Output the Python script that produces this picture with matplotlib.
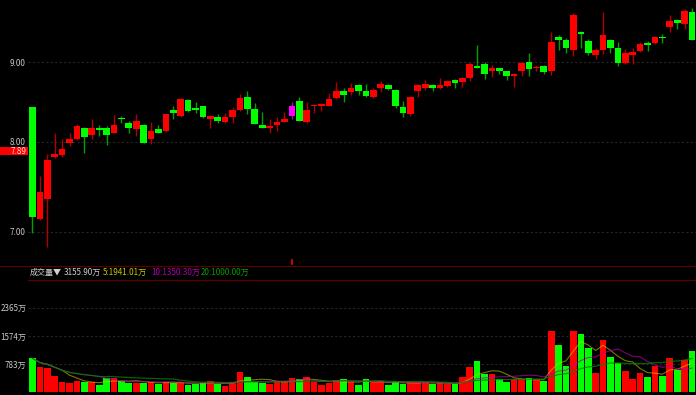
import numpy as np
import pandas as pd
import matplotlib
matplotlib.use("Agg")
import matplotlib.pyplot as plt
import matplotlib.transforms as mtransforms

plt.rcParams['font.family'] = ['Noto Sans CJK SC', 'DejaVu Sans']

# ---- data -------------------------------------------------------------
opens = [8.42, 7.13, 7.35, 7.82, 7.84, 7.98, 8.03, 8.17, 8.08, 8.16,
         8.17, 8.11, 8.28, 8.23, 8.15, 8.20, 8.03, 8.15, 8.13, 8.39,
         8.31, 8.51, 8.41, 8.43, 8.28, 8.30, 8.24, 8.30, 8.38, 8.55,
         8.40, 8.20, 8.17, 8.20, 8.24, 8.31, 8.50, 8.24, 8.44, 8.43,
         8.44, 8.53, 8.63, 8.61, 8.70, 8.63, 8.55, 8.67, 8.70, 8.64,
         8.42, 8.34, 8.62, 8.67, 8.70, 8.66, 8.69, 8.77, 8.74, 8.79,
         8.95, 8.98, 8.89, 8.92, 8.88, 8.82, 8.88, 9.00, 8.92, 8.95,
         8.88, 9.34, 9.31, 9.17, 9.42, 9.29, 9.10, 9.17, 9.30, 9.19,
         8.99, 9.10, 9.15, 9.26, 9.26, 9.35, 9.48, 9.58, 9.53, 9.70]
highs = [8.42, 7.60, 7.86, 8.11, 8.03, 8.11, 8.21, 8.18, 8.27, 8.20,
         8.19, 8.32, 8.31, 8.25, 8.33, 8.21, 8.24, 8.20, 8.34, 8.44,
         8.53, 8.52, 8.49, 8.43, 8.32, 8.34, 8.35, 8.42, 8.59, 8.63,
         8.47, 8.36, 8.27, 8.30, 8.36, 8.49, 8.55, 8.48, 8.46, 8.47,
         8.60, 8.74, 8.66, 8.73, 8.71, 8.72, 8.66, 8.75, 8.71, 8.65,
         8.50, 8.55, 8.71, 8.77, 8.72, 8.79, 8.77, 8.78, 8.80, 9.00,
         9.23, 9.00, 8.97, 8.93, 8.89, 8.86, 9.00, 9.12, 8.97, 8.96,
         9.41, 9.37, 9.33, 9.68, 9.43, 9.32, 9.19, 9.70, 9.32, 9.27,
         9.18, 9.20, 9.27, 9.29, 9.36, 9.38, 9.66, 9.60, 9.74, 9.75]
lows = [6.99, 7.12, 6.84, 7.81, 7.82, 7.95, 8.02, 7.87, 8.03, 8.07,
        7.96, 8.10, 8.23, 8.11, 8.07, 7.98, 7.97, 8.10, 8.12, 8.28,
        8.30, 8.36, 8.35, 8.29, 8.17, 8.23, 8.23, 8.22, 8.37, 8.33,
        8.21, 8.16, 8.10, 8.13, 8.24, 8.27, 8.25, 8.23, 8.35, 8.37,
        8.43, 8.52, 8.48, 8.58, 8.58, 8.55, 8.54, 8.61, 8.64, 8.41,
        8.30, 8.31, 8.55, 8.64, 8.62, 8.65, 8.68, 8.67, 8.68, 8.75,
        8.93, 8.78, 8.80, 8.84, 8.77, 8.68, 8.82, 8.82, 8.89, 8.85,
        8.83, 9.17, 9.13, 9.08, 9.20, 9.10, 9.04, 9.11, 9.12, 8.95,
        8.98, 8.98, 9.14, 9.15, 9.25, 9.26, 9.41, 9.45, 9.46, 9.31]
closes = [7.15, 7.42, 7.79, 7.86, 7.91, 8.03, 8.19, 8.06, 8.17, 8.14,
          8.08, 8.20, 8.27, 8.16, 8.25, 7.99, 8.13, 8.11, 8.33, 8.35,
          8.52, 8.37, 8.39, 8.30, 8.31, 8.25, 8.30, 8.38, 8.54, 8.40,
          8.21, 8.17, 8.19, 8.24, 8.27, 8.43, 8.25, 8.39, 8.45, 8.46,
          8.52, 8.63, 8.58, 8.66, 8.63, 8.56, 8.64, 8.72, 8.65, 8.43,
          8.35, 8.55, 8.70, 8.71, 8.66, 8.70, 8.75, 8.73, 8.79, 8.98,
          8.93, 8.85, 8.92, 8.88, 8.82, 8.85, 8.99, 8.91, 8.94, 8.87,
          9.28, 9.31, 9.19, 9.66, 9.38, 9.13, 9.17, 9.37, 9.20, 8.99,
          9.13, 9.14, 9.25, 9.23, 9.34, 9.33, 9.57, 9.54, 9.71, 9.31]
volumes = [944, 708, 680, 447, 278, 246, 306, 290, 272, 197,
           400, 386, 300, 240, 266, 266, 282, 231, 284, 256,
           270, 206, 228, 266, 302, 218, 175, 287, 564, 415,
           284, 242, 231, 322, 322, 382, 362, 423, 270, 202,
           250, 343, 354, 270, 185, 354, 270, 315, 194, 287,
           213, 287, 287, 259, 213, 250, 213, 231, 419, 708,
           868, 495, 500, 354, 278, 362, 362, 382, 326, 306,
           1703, 1309, 736, 1703, 1627, 1225, 540, 1467, 989, 804,
           596, 362, 540, 419, 736, 447, 961, 607, 896, 1149]
marked_day = 35          # candle shown in magenta
last_price = 7.89
price_ticks = [7.00, 8.00, 9.00]
vol_ticks = [783, 1574, 2365]
vol_labels = ["783万", "1574万", "2365万"]
legend_parts = [("成交量▼", "#d0d0d0"), ("3155.90万", "#d0d0d0"),
                ("5:1941.01万", "#c8c800"), ("10:1350.30万", "#b000b0"),
                ("20:1000.00万", "#00a000")]

UP, DOWN = "#ff0000", "#00ff00"
UP_WICK, DOWN_WICK = "#b00000", "#00a000"
BG = "#000000"
GRID = "#262626"
TXT = "#c8c8c8"
FS = 5.8

o = np.array(opens); h = np.array(highs); l = np.array(lows); c = np.array(closes)
v = np.array(volumes)
x = np.arange(len(o))
up = c >= o

W, H = 696, 395
fig = plt.figure(figsize=(W / 100, H / 100), dpi=100, facecolor=BG)
left = 28 / W
ax = fig.add_axes([left, 130 / H, 1 - left, 265 / H], facecolor=BG)
axv = fig.add_axes([left, 3 / H, 1 - left, 112 / H], facecolor=BG)

# ---- price panel --------------------------------------------------------
ax.set_yscale("log")
ax.set_ylim(6.663, 9.872)
ax.set_xlim(-0.607, 89.54)
for p in price_ticks:
    ax.axhline(p, color=GRID, lw=0.8, ls=(0, (2, 2)), zorder=0)

body_col = np.where(up, UP, DOWN).astype(object)
wick_col = np.where(up, UP_WICK, DOWN_WICK).astype(object)
body_col[marked_day] = "#ff00ff"
wick_col[marked_day] = "#b000b0"

ax.vlines(x, l, h, colors=list(wick_col), lw=1.0, zorder=2)
bottoms = np.minimum(o, c)
heights = np.maximum(np.abs(c - o), 0.012)
ax.bar(x, heights, bottom=bottoms, width=0.9, color=list(body_col),
       edgecolor="none", zorder=3)

ax.set_yticks(price_ticks)
ax.set_yticklabels(["%.2f" % p for p in price_ticks])
ax.yaxis.set_minor_locator(matplotlib.ticker.NullLocator())
ax.tick_params(axis="y", length=0, pad=1.5, labelsize=FS, labelcolor=TXT)
ax.tick_params(axis="x", bottom=False, labelbottom=False)
for s in ax.spines.values():
    s.set_visible(False)

# last price tag on the left edge
trans = mtransforms.blended_transform_factory(fig.transFigure, ax.transData)
ypix = 8 * np.exp((141.7 - 147.0) / 674)   # top edge of tag in price units
ybot = 8 * np.exp((141.7 - 155.0) / 674)
ax.add_patch(plt.Rectangle((0, ybot), left, ypix - ybot, transform=trans,
                           facecolor="#ff0000", edgecolor="none", clip_on=False, zorder=5))
ax.text(left - 1.5 / W, last_price, "%.2f" % last_price, transform=trans,
        ha="right", va="center", fontsize=FS, color="#ffd8d8", zorder=6)

# small marker under the magenta day
mark = mtransforms.blended_transform_factory(ax.transData, ax.transAxes)
ax.plot([marked_day, marked_day], [0.005, 0.02], color="#ff0000", lw=1.2,
        transform=mark, clip_on=False)

# ---- separators + legend row --------------------------------------------
fig.add_artist(plt.Line2D([0, 1], [1 - 265.5 / H] * 2, color="#5a0000", lw=0.9))
fig.add_artist(plt.Line2D([left, 1], [1 - 279.5 / H] * 2, color="#5a0000", lw=0.9))
xpos = [30, 64, 103, 151, 201]
for (t, col), xp in zip(legend_parts, xpos):
    fig.text(xp / W, 1 - 272.5 / H, t, color=col, fontsize=FS, va="center", ha="left")

# ---- volume panel -------------------------------------------------------
axv.set_xlim(-0.607, 89.54)
axv.set_ylim(0, 3147)
for t in vol_ticks:
    axv.axhline(t, color=GRID, lw=0.8, ls=(0, (2, 2)), zorder=0)
vcol = np.where(up, UP, DOWN)
axv.bar(x, v, width=0.9, color=list(vcol), edgecolor="none", zorder=2)

vs = pd.Series(v, dtype=float)
axv.plot(x, vs.rolling(5, min_periods=1).mean(), color="#c8c800", lw=0.8, alpha=0.6, zorder=3)
axv.plot(x, vs.rolling(10, min_periods=1).mean(), color="#b000b0", lw=0.8, alpha=0.7, zorder=3)
axv.plot(x, vs.rolling(20, min_periods=1).mean(), color="#008000", lw=0.9, alpha=0.8, zorder=3)

axv.set_yticks(vol_ticks)
axv.set_yticklabels(vol_labels)
axv.tick_params(axis="y", length=0, pad=1, labelsize=FS, labelcolor=TXT)
axv.tick_params(axis="x", bottom=False, labelbottom=False)
for s in axv.spines.values():
    s.set_visible(False)

fig.savefig("out.png", dpi=100, facecolor=BG)
